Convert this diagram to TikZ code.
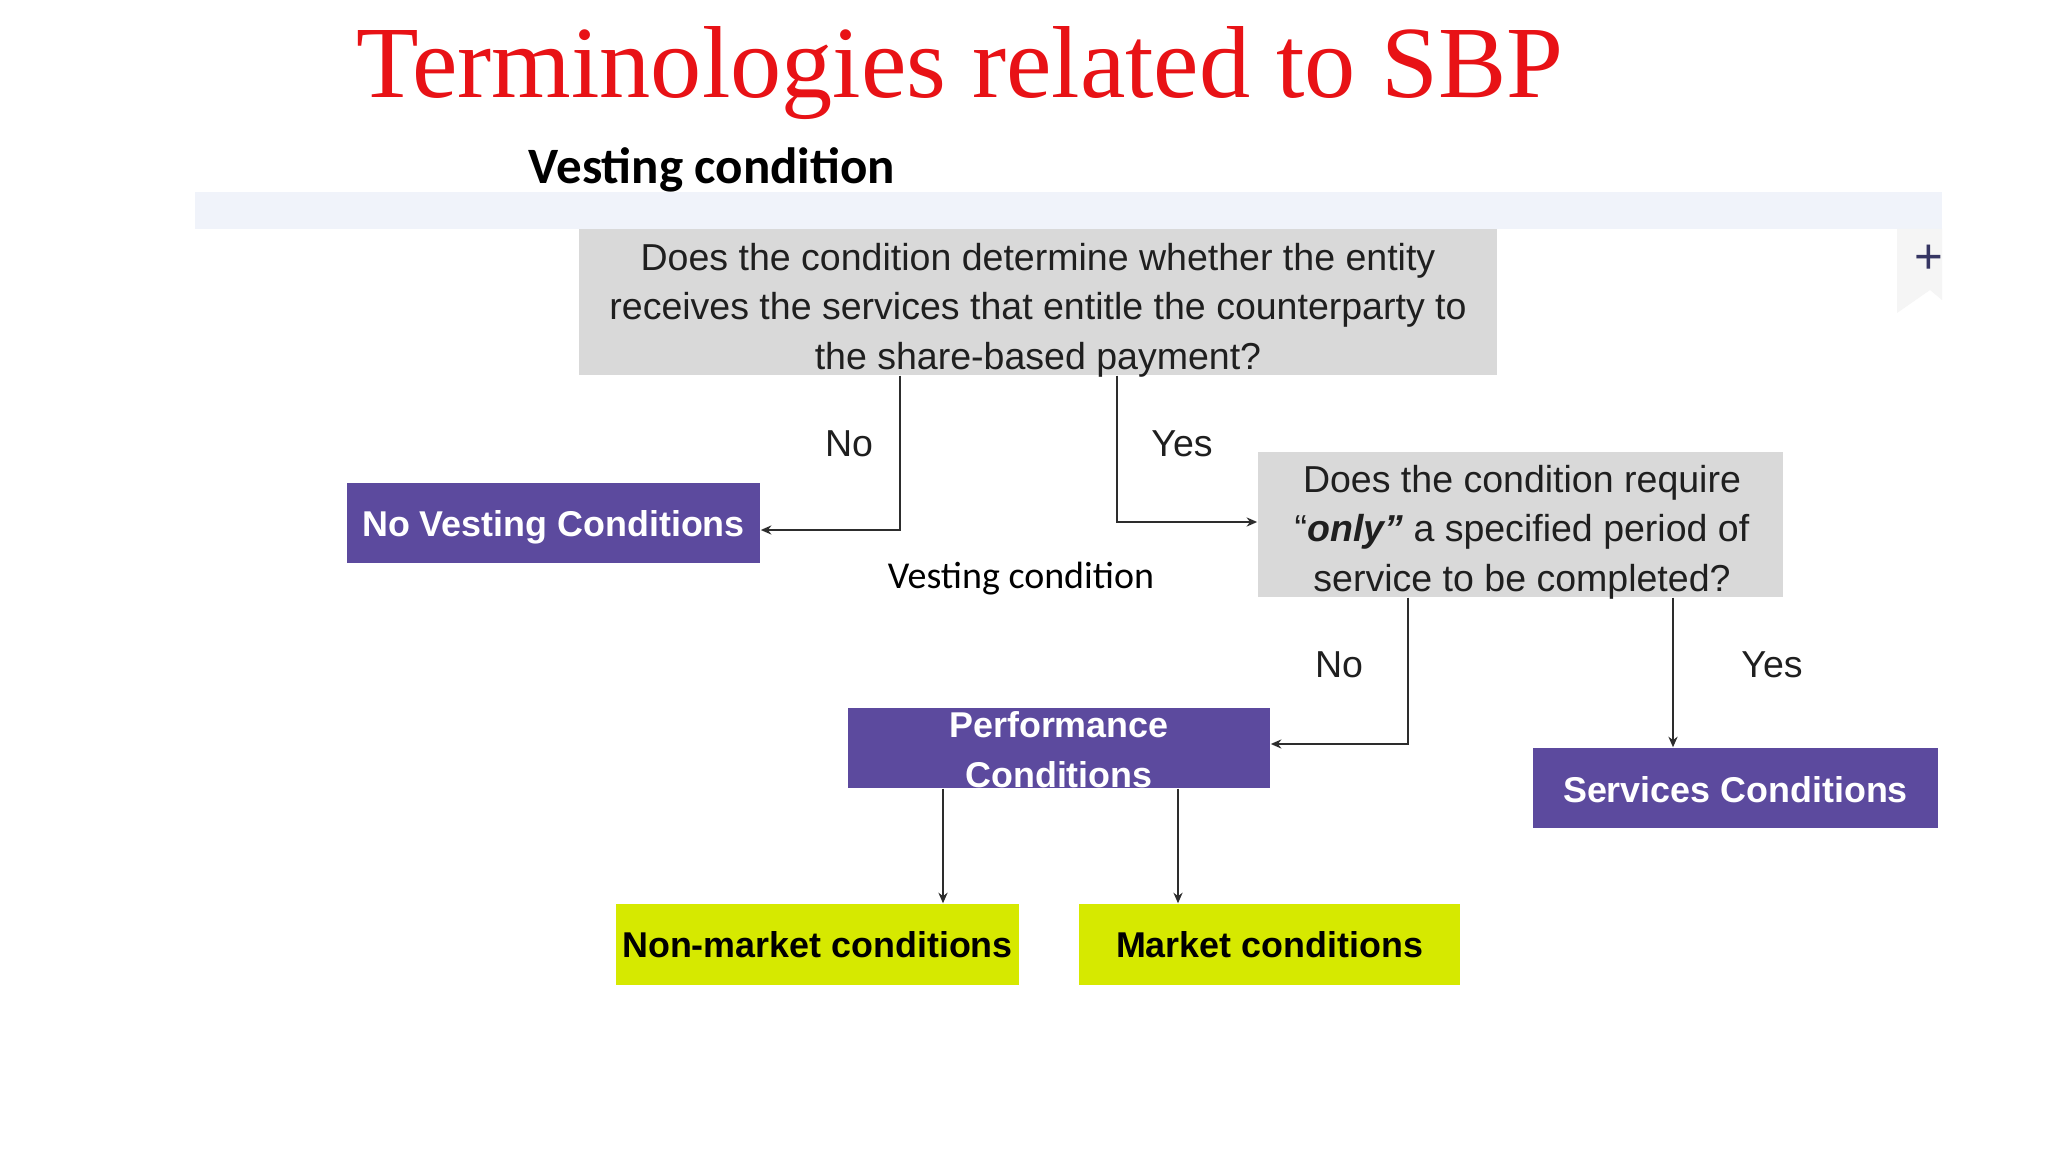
\documentclass[tikz,border=0pt]{standalone}
\usepackage{fontspec}
\setmainfont{Liberation Sans}
\newfontfamily\titlef{Liberation Serif}
\newfontfamily\calf{Carlito}
\usetikzlibrary{arrows.meta}
\definecolor{titlered}{RGB}{232,18,22}
\definecolor{qgray}{RGB}{217,217,217}
\definecolor{vpurple}{RGB}{92,74,158}
\definecolor{vyellow}{RGB}{214,233,0}
\definecolor{bandblue}{RGB}{240,243,250}
\definecolor{linegray}{RGB}{45,45,45}
\begin{document}
\begin{tikzpicture}[x=0.01cm,y=-0.01cm,
  qbox/.style={rectangle,fill=qgray,inner sep=0pt},
  qtext/.style={inner sep=0pt,align=center,text=black!88,
    font=\fontsize{10.67pt}{14.1pt}\selectfont},
  pbox/.style={rectangle,fill=vpurple,inner sep=0pt,align=center,text=white,
    font=\fontsize{10.2pt}{13.7pt}\selectfont\bfseries},
  ybox/.style={rectangle,fill=vyellow,inner sep=0pt,align=center,text=black,
    font=\fontsize{10.2pt}{13.7pt}\selectfont\bfseries},
  lbl/.style={font=\fontsize{10.67pt}{13.7pt}\selectfont,text=black!88,inner sep=0pt},
  conn/.style={draw=linegray,line width=0.55pt,-{Stealth[length=3pt,width=2.6pt]}}]
\useasboundingbox (0,0) rectangle (2048,1152);
\fill[white] (0,0) rectangle (2048,1152);
% background band and side tab
\fill[bandblue] (195,192) rectangle (1942,229);
\fill[gray!8] (1897,229) -- (1942,229) -- (1942,300) -- (1930,290) -- (1897,313) -- cycle;
\node[text=gray!70!blue!60!black,font=\fontsize{14pt}{14pt}\selectfont,inner sep=0pt] (plus) at (1929,259) {+};
% titles
\node[anchor=base,text=titlered,font=\titlef\fontsize{29.1pt}{30pt}\selectfont,inner sep=0pt] (title) at (960,98) {Terminologies related to SBP};
\node[anchor=base,font=\calf\bfseries\fontsize{14.5pt}{16pt}\selectfont,inner sep=0pt] (head) at (712,184) {Vesting condition};
% boxes
\node[qbox,minimum width=9.18cm,minimum height=1.46cm] (q1) at (1038,302) {};
\node[qtext] (q1t) at (1038,310)
  {Does the condition determine whether the entity\\receives the services that entitle the counterparty to\\the share-based payment?};
\node[qbox,minimum width=5.25cm,minimum height=1.45cm] (q2) at (1520.5,524.5) {};
\node[qtext] (q2t) at (1522,532)
  {Does the condition require\\“\textbf{\textit{only”}} a specified period of\\service to be completed?};
\node[pbox,minimum width=4.13cm,minimum height=0.80cm] (nv) at (553.5,523) {};
\node[pbox,fill=none] (nvt) at (553.5,527) {No Vesting Conditions};
\node[pbox,minimum width=4.22cm,minimum height=0.80cm] (perf) at (1059,748) {};
\node[pbox,fill=none] (perftxt) at (1059,750) {Performance\\[0.6pt]Conditions};
\node[pbox,minimum width=4.05cm,minimum height=0.80cm] (serv) at (1735.5,788) {};
\node[pbox,fill=none] (servt) at (1735.5,790) {Services Conditions};
\node[ybox,minimum width=4.03cm,minimum height=0.81cm] (nm) at (817.5,944.5) {Non-market conditions};
\node[ybox,minimum width=3.81cm,minimum height=0.81cm] (mk) at (1269.5,944.5) {Market conditions};
% free text
\node[anchor=base,font=\calf\fontsize{10.8pt}{13pt}\selectfont,inner sep=0pt] (vc) at (1021,588) {Vesting condition};
% labels
\node[lbl] (no1) at (849,444) {No};
\node[lbl] (yes1) at (1182,444) {Yes};
\node[lbl] (no2) at (1339,665) {No};
\node[lbl] (yes2) at (1772,665) {Yes};
% connectors
\draw[conn] (q1.south -| 900,0) |- ([yshift=-0.07cm]nv.east);
\draw[conn] (q1.south -| 1117,0) |- ([yshift=0.025cm]q2.west);
\draw[conn] (q2.south -| 1408,0) |- ([yshift=0.04cm]perf.east);
\draw[conn] (q2.south -| 1673,0) -- (serv.north -| 1673,0);
\draw[conn] (perf.south -| 943,0) -- (nm.north -| 943,0);
\draw[conn] (perf.south -| 1178,0) -- (mk.north -| 1178,0);
\end{tikzpicture}
\end{document}
